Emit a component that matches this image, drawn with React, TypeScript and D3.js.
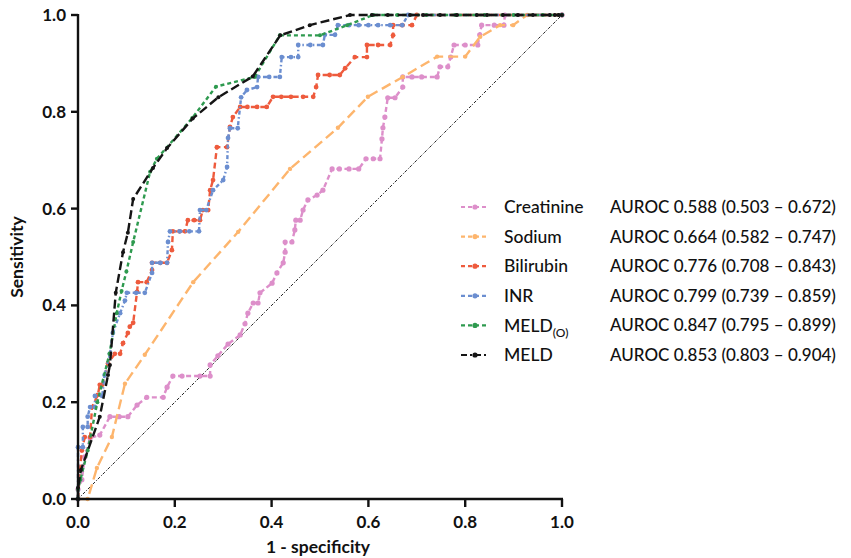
import React from "react";
import * as d3 from "d3";

type P = [number, number];

const creatinine: P[] = [[0,0],[0,0.02],[0.008,0.04],[0.014,0.087],[0.025,0.126],[0.045,0.132],[0.066,0.17],[0.085,0.17],[0.103,0.17],[0.122,0.194],[0.142,0.21],[0.176,0.21],[0.184,0.231],[0.196,0.254],[0.215,0.254],[0.252,0.254],[0.273,0.254],[0.273,0.277],[0.289,0.296],[0.31,0.32],[0.335,0.339],[0.345,0.362],[0.351,0.384],[0.362,0.405],[0.372,0.405],[0.376,0.426],[0.401,0.446],[0.411,0.467],[0.424,0.488],[0.428,0.51],[0.428,0.531],[0.442,0.531],[0.448,0.556],[0.45,0.576],[0.459,0.576],[0.465,0.597],[0.475,0.618],[0.494,0.628],[0.506,0.638],[0.525,0.682],[0.54,0.682],[0.56,0.682],[0.58,0.682],[0.595,0.703],[0.61,0.703],[0.624,0.703],[0.628,0.744],[0.63,0.767],[0.634,0.789],[0.64,0.829],[0.655,0.829],[0.671,0.851],[0.671,0.872],[0.69,0.872],[0.71,0.872],[0.742,0.872],[0.748,0.893],[0.764,0.893],[0.77,0.913],[0.777,0.938],[0.8,0.938],[0.826,0.938],[0.83,0.959],[0.834,0.979],[0.86,0.979],[0.88,0.979],[0.882,1],[1,1]];
const sodium: P[] = [[0,0],[0.02,0],[0.039,0.064],[0.07,0.128],[0.097,0.238],[0.138,0.298],[0.238,0.448],[0.331,0.552],[0.438,0.682],[0.537,0.767],[0.599,0.831],[0.671,0.872],[0.742,0.914],[0.8,0.914],[0.831,0.955],[0.872,0.979],[0.899,0.979],[0.928,1],[1,1]];
const bilirubin: P[] = [[0,0],[0.004,0.06],[0.008,0.1],[0.014,0.128],[0.025,0.128],[0.029,0.19],[0.041,0.215],[0.045,0.236],[0.05,0.236],[0.062,0.28],[0.076,0.3],[0.087,0.3],[0.093,0.322],[0.103,0.343],[0.107,0.356],[0.114,0.364],[0.122,0.428],[0.124,0.448],[0.142,0.448],[0.153,0.473],[0.153,0.488],[0.17,0.488],[0.184,0.488],[0.194,0.514],[0.196,0.553],[0.21,0.553],[0.221,0.553],[0.227,0.576],[0.24,0.576],[0.252,0.576],[0.258,0.597],[0.269,0.597],[0.273,0.638],[0.279,0.659],[0.287,0.727],[0.308,0.727],[0.314,0.769],[0.32,0.789],[0.335,0.81],[0.35,0.81],[0.37,0.81],[0.39,0.81],[0.403,0.831],[0.42,0.831],[0.44,0.831],[0.465,0.831],[0.486,0.831],[0.492,0.851],[0.496,0.876],[0.52,0.876],[0.541,0.876],[0.552,0.89],[0.572,0.913],[0.597,0.913],[0.597,0.938],[0.62,0.938],[0.645,0.938],[0.651,0.958],[0.651,0.979],[0.67,0.979],[0.69,0.979],[0.7,1],[1,1]];
const inr: P[] = [[0,0],[0,0.107],[0.01,0.107],[0.01,0.149],[0.02,0.149],[0.02,0.17],[0.025,0.19],[0.035,0.19],[0.035,0.213],[0.05,0.213],[0.055,0.256],[0.066,0.3],[0.072,0.343],[0.087,0.384],[0.097,0.41],[0.101,0.426],[0.12,0.426],[0.138,0.426],[0.153,0.467],[0.153,0.488],[0.17,0.488],[0.184,0.488],[0.186,0.531],[0.19,0.553],[0.21,0.553],[0.23,0.553],[0.25,0.553],[0.252,0.597],[0.265,0.597],[0.279,0.638],[0.3,0.659],[0.308,0.686],[0.31,0.746],[0.314,0.766],[0.33,0.766],[0.337,0.83],[0.349,0.845],[0.37,0.851],[0.372,0.872],[0.395,0.872],[0.417,0.872],[0.421,0.913],[0.44,0.913],[0.455,0.913],[0.455,0.938],[0.48,0.938],[0.506,0.938],[0.51,0.959],[0.531,0.959],[0.537,0.979],[0.56,0.979],[0.58,0.979],[0.6,0.979],[0.62,0.979],[0.645,0.979],[0.67,0.979],[0.682,1],[1,1]];
const meldO: P[] = [[0,0],[0,0.02],[0.005,0.04],[0.02,0.1],[0.04,0.2],[0.065,0.3],[0.08,0.384],[0.09,0.43],[0.1,0.47],[0.114,0.531],[0.149,0.676],[0.163,0.703],[0.236,0.787],[0.285,0.852],[0.365,0.872],[0.417,0.958],[0.5,0.958],[0.556,0.979],[0.61,1],[0.66,1],[0.72,1],[0.78,1],[0.84,1],[0.9,1],[0.96,1],[1,1]];
const meld: P[] = [[0,0],[0,0.023],[0.006,0.06],[0.045,0.17],[0.062,0.256],[0.066,0.277],[0.078,0.426],[0.093,0.51],[0.103,0.55],[0.114,0.62],[0.155,0.684],[0.184,0.725],[0.237,0.786],[0.29,0.83],[0.361,0.873],[0.418,0.958],[0.479,0.979],[0.562,1],[0.607,1],[0.64,1],[0.686,1],[0.713,1],[0.748,1],[0.783,1],[0.824,1],[0.845,1],[0.878,1],[0.909,1],[0.94,1],[0.975,1],[0.985,1],[0.993,1],[1,1]];

const seriesNames = ["Creatinine", "Sodium", "Bilirubin", "INR", "MELD(O)", "MELD"];
const aurocLabels = [
  "AUROC 0.588 (0.503 – 0.672)",
  "AUROC 0.664 (0.582 – 0.747)",
  "AUROC 0.776 (0.708 – 0.843)",
  "AUROC 0.799 (0.739 – 0.859)",
  "AUROC 0.847 (0.795 – 0.899)",
  "AUROC 0.853 (0.803 – 0.904)",
];
const seriesData: P[][] = [creatinine, sodium, bilirubin, inr, meldO, meld];
const ticks = [0, 0.2, 0.4, 0.6, 0.8, 1.0];

const styles = [
  { color: "#dd8fca", dash: "5,3", r: 2.6, w: 2.4 },
  { color: "#fdb56d", dash: "10,5", r: 2.2, w: 2.4 },
  { color: "#ee5b3d", dash: "6,3.5", r: 2.4, w: 2.4 },
  { color: "#6b8ed0", dash: "4,2.5,1.5,2.5", r: 2.4, w: 2.4 },
  { color: "#2e9a4f", dash: "4,3", r: 2.0, w: 2.4 },
  { color: "#151515", dash: "9,4", r: 2.0, w: 2.4 },
];

const FONT = "Lato, 'Open Sans', sans-serif";

export default function App() {
  const x = d3.scaleLinear().domain([0, 1]).range([78, 562]);
  const y = d3.scaleLinear().domain([0, 1]).range([499, 15]);
  const line = d3.line<P>().x((d) => x(d[0])).y((d) => y(d[1]));
  const legendY = d3.scaleLinear().domain([0, 5]).range([207, 355]);

  return (
    <svg width={851} height={558} style={{ position: "absolute", left: 0, top: 0, background: "#fff" }} fontFamily={FONT}>
      <rect width={851} height={558} fill="#fff" />
      <path d={line([[0, 0], [1, 1]])!} stroke="#222" strokeWidth={1} strokeDasharray="3,1.5,1,1.5" fill="none" />
      {seriesData.map((data, i) => (
        <g key={i}>
          <path d={line(data)!} stroke={styles[i].color} strokeWidth={styles[i].w} strokeDasharray={styles[i].dash} fill="none" />
          {data.map((d, j) => (
            <circle key={j} cx={x(d[0])} cy={y(d[1])} r={styles[i].r} fill={styles[i].color} />
          ))}
        </g>
      ))}
      <line x1={78} x2={78} y1={y(1) - 1} y2={y(0) + 1.2} stroke="#111" strokeWidth={2.4} />
      <line x1={77} x2={x(1) + 1} y1={499} y2={499} stroke="#111" strokeWidth={2.4} />
      {ticks.map((t) => (
        <g key={"y" + t}>
          <line x1={71} x2={78} y1={y(t)} y2={y(t)} stroke="#111" strokeWidth={2.4} />
          <text x={66} y={y(t)} dy="0.35em" textAnchor="end" fontSize={17} fontWeight={700} fill="#111">
            {t.toFixed(1)}
          </text>
        </g>
      ))}
      {ticks.map((t) => (
        <g key={"x" + t}>
          <line x1={x(t)} x2={x(t)} y1={499} y2={507} stroke="#111" strokeWidth={2.4} />
          <text x={x(t)} y={528} textAnchor="middle" fontSize={17} fontWeight={700} fill="#111">
            {t.toFixed(1)}
          </text>
        </g>
      ))}
      <text transform={`translate(23,${y(0.5)}) rotate(-90)`} textAnchor="middle" fontSize={17.5} fontWeight={700} fill="#111">
        Sensitivity
      </text>
      <text x={318} y={553} textAnchor="middle" fontSize={17.5} fontWeight={700} fill="#111">
        1 - specificity
      </text>
      {seriesNames.map((name, i) => {
        const ly = legendY(i);
        return (
          <g key={name}>
            <line x1={461} x2={488} y1={ly} y2={ly} stroke={styles[i].color} strokeWidth={2.2} strokeDasharray={i === 5 ? "6,3,2,3" : "4,3"} />
            <circle cx={475} cy={ly} r={2.6} fill={styles[i].color} />
            <text x={504} y={ly} dy="0.35em" fontSize={17.5} fontWeight={500} fill="#111">
              {name === "MELD(O)" ? (
                <>
                  MELD<tspan fontSize={12} dy="5">(O)</tspan>
                </>
              ) : (
                name
              )}
            </text>
            <text x={610} y={ly} dy="0.35em" fontSize={17} fontWeight={500} fill="#111">
              {aurocLabels[i]}
            </text>
          </g>
        );
      })}
    </svg>
  );
}
